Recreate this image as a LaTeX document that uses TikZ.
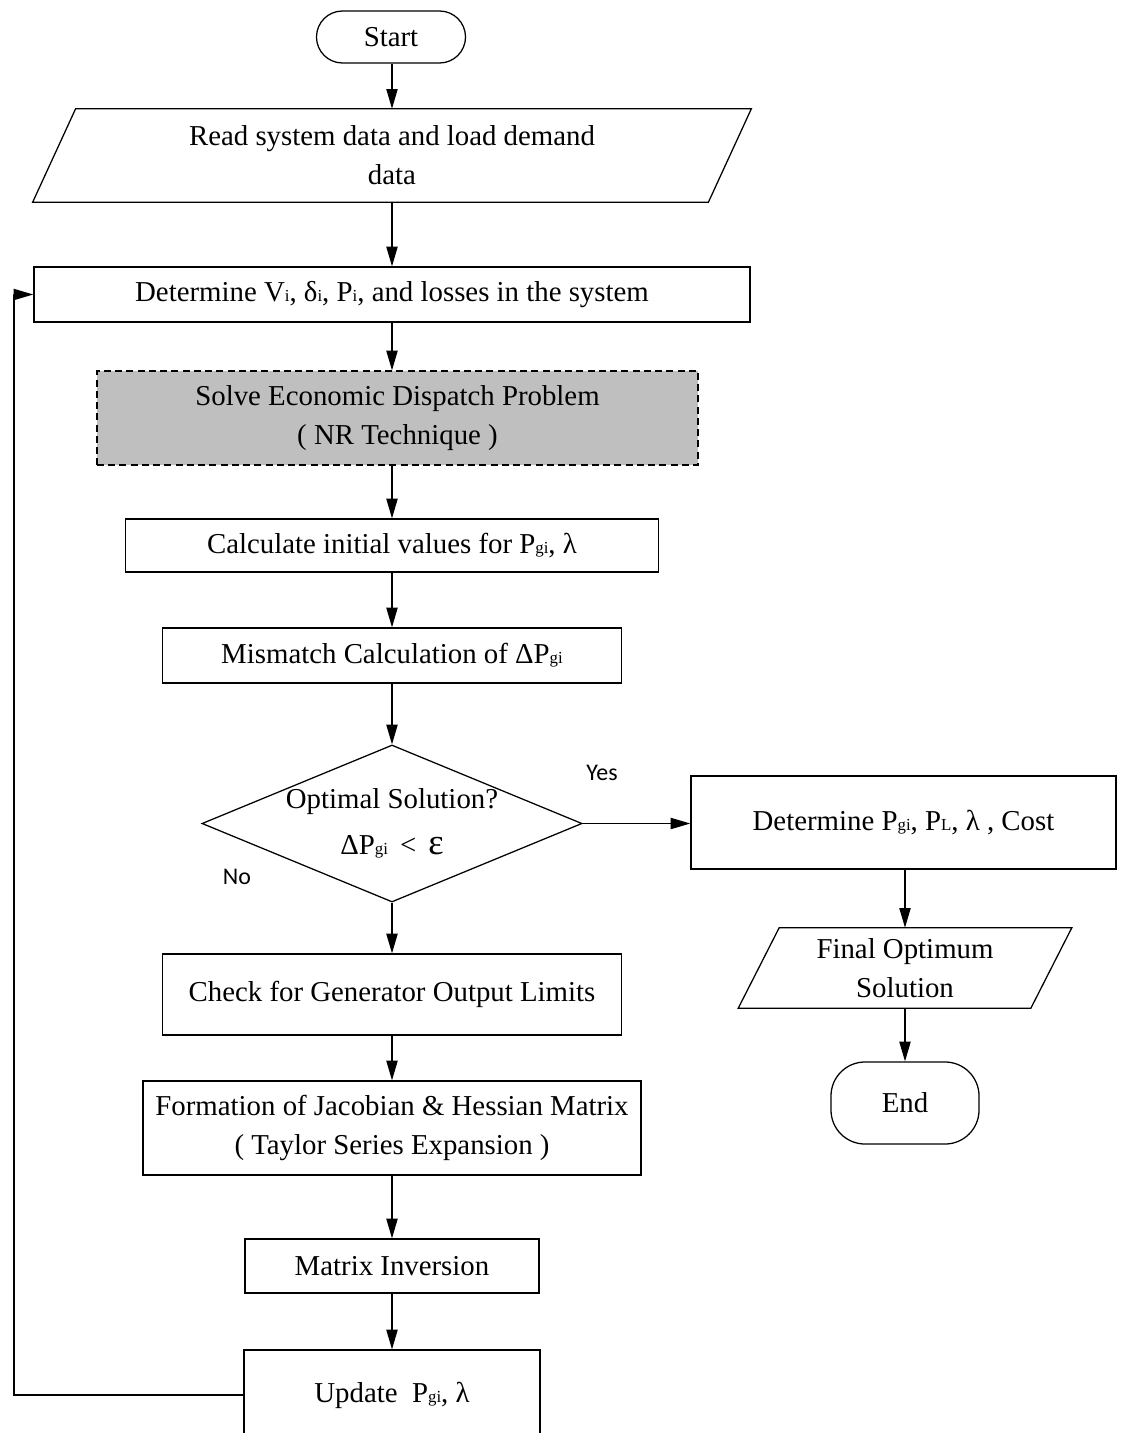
\documentclass[tikz,border=0pt]{standalone}
\usepackage{fontspec}
\setmainfont{Liberation Serif}
\newfontfamily\lblfont{Carlito}
\usetikzlibrary{shapes.geometric,arrows.meta}
\newcommand\sbs[1]{{\fontsize{12}{12}\selectfont #1}}
\newcommand\bigeps{{\fontsize{26}{26}\selectfont ε}}
\begin{document}
\begin{tikzpicture}[x=0.025cm,y=-0.025cm,
  every node/.style={font=\fontsize{20.5}{27.7}\selectfont},
  box/.style={draw, line width=0.9pt, rectangle, inner sep=0pt, align=center},
  ghost/.style={rectangle, inner sep=0pt, align=center},
  ln/.style={line width=0.9pt},
  arr/.style={-{Triangle[length=14pt,width=8pt]}, line width=0.9pt},
  lbl/.style={font=\lblfont\fontsize{17}{20}\selectfont}
]
\clip (0,0) rectangle (1120,1433);

% main column
\node[box, rounded corners=0.65cm, minimum width=3.725cm, minimum height=1.3cm] (start) at (391,37) {Start};
\node[ghost, minimum width=16.875cm, minimum height=2.325cm] (read) at (392,155.5) {Read system data and load demand\\data};
\draw[ln] ([xshift=-0.5375cm]read.south west) -- ([xshift=0.5375cm]read.north west) -- ([xshift=0.5375cm]read.north east) -- ([xshift=-0.5375cm]read.south east) -- cycle;
\node[box, minimum width=17.9cm, minimum height=1.375cm] (det1) at (392,294.5) {Determine V\sbs{i}, δ\sbs{i}, P\sbs{i}, and losses in the system};
\node[box, dashed, dash pattern=on 5pt off 3pt, fill={rgb,255:red,191;green,191;blue,191}, minimum width=15.025cm, minimum height=2.35cm] (solve) at (397.5,418) {Solve Economic Dispatch Problem\\( NR Technique )};
\node[box, minimum width=13.325cm, minimum height=1.325cm] (calc) at (392,545.5) {Calculate initial values for P\sbs{gi}, λ};
\node[box, minimum width=11.475cm, minimum height=1.375cm] (mis) at (392,655.5) {Mismatch Calculation of ΔP\sbs{gi}};
\node[draw, ln, diamond, inner sep=0pt, minimum width=9.5cm, minimum height=3.925cm] (dec) at (392,823.5) {};
\node[ghost, font=\fontsize{20.5}{33}\selectfont] (dectext) at (392,823.5) {Optimal Solution?\\ΔP\sbs{gi} \,<\, \bigeps};
\node[box, minimum width=11.475cm, minimum height=2.025cm] (chk) at (392,994.5) {Check for Generator Output Limits};
\node[box, minimum width=12.45cm, minimum height=2.35cm] (form) at (392,1128) {Formation of Jacobian \& Hessian Matrix\\( Taylor Series Expansion )};
\node[box, minimum width=7.35cm, minimum height=1.35cm] (mat) at (392,1266) {Matrix Inversion};
\node[box, minimum width=7.4cm, minimum height=2.25cm] (upd) at (392,1395) {Update~~P\sbs{gi}, λ};

% right column
\node[box, minimum width=10.625cm, minimum height=2.325cm] (det2) at (903.5,822.5) {Determine P\sbs{gi}, P\sbs{L}, λ , Cost};
\node[ghost, minimum width=7.3cm, minimum height=2.0cm] (final) at (905,968) {Final Optimum\\Solution};
\draw[ln] ([xshift=-0.5125cm]final.south west) -- ([xshift=0.5125cm]final.north west) -- ([xshift=0.5125cm]final.north east) -- ([xshift=-0.5125cm]final.south east) -- cycle;
\node[box, rounded corners=0.85cm, minimum width=3.7cm, minimum height=2.05cm] (end) at (905,1103) {End};

% labels
\node[lbl] (yes) at (602,773) {Yes};
\node[lbl] (no) at (237,877) {No};

% connectors
\draw[arr] (start.south -| read.north) -- (read.north);
\draw[arr] (read.south) -- (read.south |- det1.north);
\draw[arr] (det1.south) -- (det1.south |- solve.north);
\draw[arr] (solve.south -| calc.north) -- (calc.north);
\draw[arr] (calc.south) -- (mis.north);
\draw[arr] (mis.south) -- (dec.north);
\draw[arr] (dec.south) -- (chk.north);
\draw[arr] (chk.south) -- (form.north);
\draw[arr] (form.south) -- (mat.north);
\draw[arr] (mat.south) -- (upd.north);
\draw[arr] (dec.east) -- (dec.east -| det2.west);
\draw[arr] (det2.south -| final.north) -- (final.north);
\draw[arr] (final.south) -- (end.north);
\coordinate (fb) at (14,0);
\draw[arr] (upd.west) -- (upd.west -| fb) |- (det1.west);
\end{tikzpicture}
\end{document}
